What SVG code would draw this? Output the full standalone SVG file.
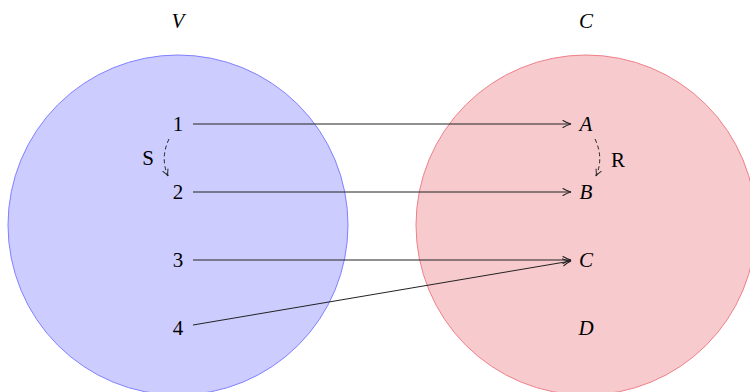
<svg xmlns="http://www.w3.org/2000/svg" width="750" height="392" viewBox="0 0 750 392">
  <defs>
    <marker id="to" viewBox="0 0 10 10" refX="9" refY="5" markerWidth="10" markerHeight="10" markerUnits="userSpaceOnUse" orient="auto">
      <path d="M1,1.5 Q5,4 9,5 Q5,6 1,8.5" fill="none" stroke="#222" stroke-width="1.1" stroke-linecap="round"/>
    </marker>
    <marker id="tos" viewBox="0 0 10 10" refX="9" refY="5" markerWidth="8" markerHeight="8" markerUnits="userSpaceOnUse" orient="auto">
      <path d="M1,1.5 Q5,4 9,5 Q5,6 1,8.5" fill="none" stroke="#222" stroke-width="1.2" stroke-linecap="round"/>
    </marker>
  </defs>
  <style>
    text { font-family: "Liberation Serif", "Times New Roman", serif; font-size: 21px; fill: #000; text-anchor: middle; }
    .it { font-style: italic; }
    .edge { fill: none; stroke: #222; stroke-width: 1; marker-end: url(#to); }
    .loop { fill: none; stroke: #222; stroke-width: 1; stroke-dasharray: 4 3; marker-end: url(#tos); }
  </style>

  <!-- sets -->
  <g id="setV">
    <circle cx="178" cy="225" r="170" fill="#ccccff" stroke="#8080ff" stroke-width="1"/>
    <text class="it" x="178" y="28">V</text>
  </g>
  <g id="setC">
    <circle cx="586" cy="225" r="170" fill="#f7cacd" stroke="#ee8088" stroke-width="1"/>
    <text class="it" x="586" y="28">C</text>
  </g>

  <!-- vertices -->
  <g id="v1"><text x="178" y="131">1</text></g>
  <g id="v2"><text x="178" y="199">2</text></g>
  <g id="v3"><text x="178" y="267">3</text></g>
  <g id="v4"><text x="178" y="335">4</text></g>

  <!-- colours -->
  <g id="cA"><text class="it" x="586" y="131">A</text></g>
  <g id="cB"><text class="it" x="586" y="199">B</text></g>
  <g id="cC"><text class="it" x="586" y="267">C</text></g>
  <g id="cD"><text class="it" x="586" y="335">D</text></g>

  <!-- relation labels -->
  <g id="labelS"><text x="148" y="165">S</text></g>
  <g id="labelR"><text x="618" y="167">R</text></g>

  <!-- connectors -->
  <g id="edges">
    <line class="edge" x1="193" y1="124" x2="571" y2="124"/>
    <line class="edge" x1="193" y1="192" x2="571" y2="192"/>
    <line class="edge" x1="193" y1="260" x2="571" y2="260"/>
    <line class="edge" x1="193" y1="325" x2="571" y2="261"/>
    <path class="loop" d="M169,139 Q160,158 168,176"/>
    <path class="loop" d="M595,139 Q604,158 596,176"/>
  </g>
</svg>
